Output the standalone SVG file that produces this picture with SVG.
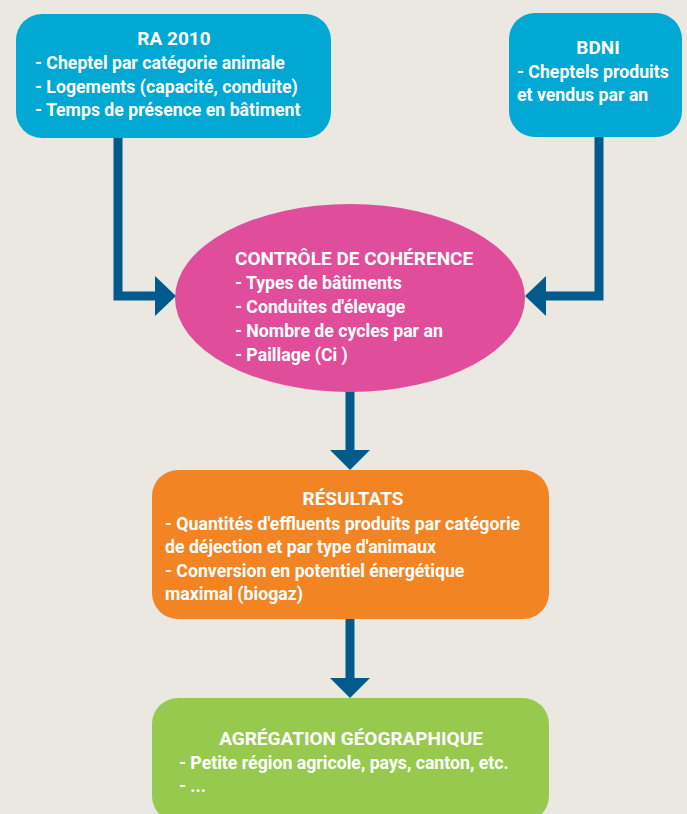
<svg xmlns="http://www.w3.org/2000/svg" width="687" height="814" viewBox="0 0 687 814">
<defs>
<style>
text{font-family:Roboto,"Liberation Sans",sans-serif;font-weight:bold;fill:#fff;font-size:17.7px}
.t{font-size:19px;text-anchor:middle}
.c{fill:none;stroke:#005a8c;stroke-width:9}
.h{fill:#005a8c}
</style>
</defs>
<rect width="687" height="814" fill="#ebe8e2"/>
<g id="connectors">
<path class="c" d="M118 138V296H158"/>
<polygon class="h" points="155,276 176,296 155,316"/>
<path class="c" d="M599 137V296H542"/>
<polygon class="h" points="546,276 525,296 546,316"/>
<path class="c" d="M350 390V452"/>
<polygon class="h" points="330,450 370,450 350,470"/>
<path class="c" d="M350 618V680"/>
<polygon class="h" points="330,678 370,678 350,698"/>
</g>
<g id="ra2010">
<rect x="16" y="14" width="315" height="124" rx="26" fill="#00a8d3"/>
<text class="t" x="174" y="45">RA 2010</text>
<text x="35" y="69">- Cheptel par catégorie animale</text>
<text x="35" y="93">- Logements (capacité, conduite)</text>
<text x="35" y="116">- Temps de présence en bâtiment</text>
</g>
<g id="bdni">
<rect x="509" y="13" width="173" height="124" rx="26" fill="#00a8d3"/>
<text class="t" x="598" y="54">BDNI</text>
<text x="517" y="78">- Cheptels produits</text>
<text x="517" y="101">et vendus par an</text>
</g>
<g id="controle">
<ellipse cx="350" cy="298" rx="175" ry="94" fill="#e04d9b"/>
<text x="235" y="265" style="font-size:19px">CONTRÔLE DE COHÉRENCE</text>
<text x="235" y="289">- Types de bâtiments</text>
<text x="235" y="313">- Conduites d'élevage</text>
<text x="235" y="337">- Nombre de cycles par an</text>
<text x="235" y="361">- Paillage (Ci )</text>
</g>
<g id="resultats">
<rect x="152" y="470" width="397" height="149" rx="26" fill="#f28423"/>
<text class="t" x="353" y="505">RÉSULTATS</text>
<text x="165" y="530">- Quantités d'effluents produits par catégorie</text>
<text x="165" y="553">de déjection et par type d'animaux</text>
<text x="165" y="577">- Conversion en potentiel énergétique</text>
<text x="165" y="600">maximal (biogaz)</text>
</g>
<g id="agregation">
<rect x="152" y="698" width="397" height="124" rx="26" fill="#97c94f"/>
<text class="t" x="351" y="745">AGRÉGATION GÉOGRAPHIQUE</text>
<text x="179" y="769">- Petite région agricole, pays, canton, etc.</text>
<text x="179" y="792">- ...</text>
</g>
</svg>
